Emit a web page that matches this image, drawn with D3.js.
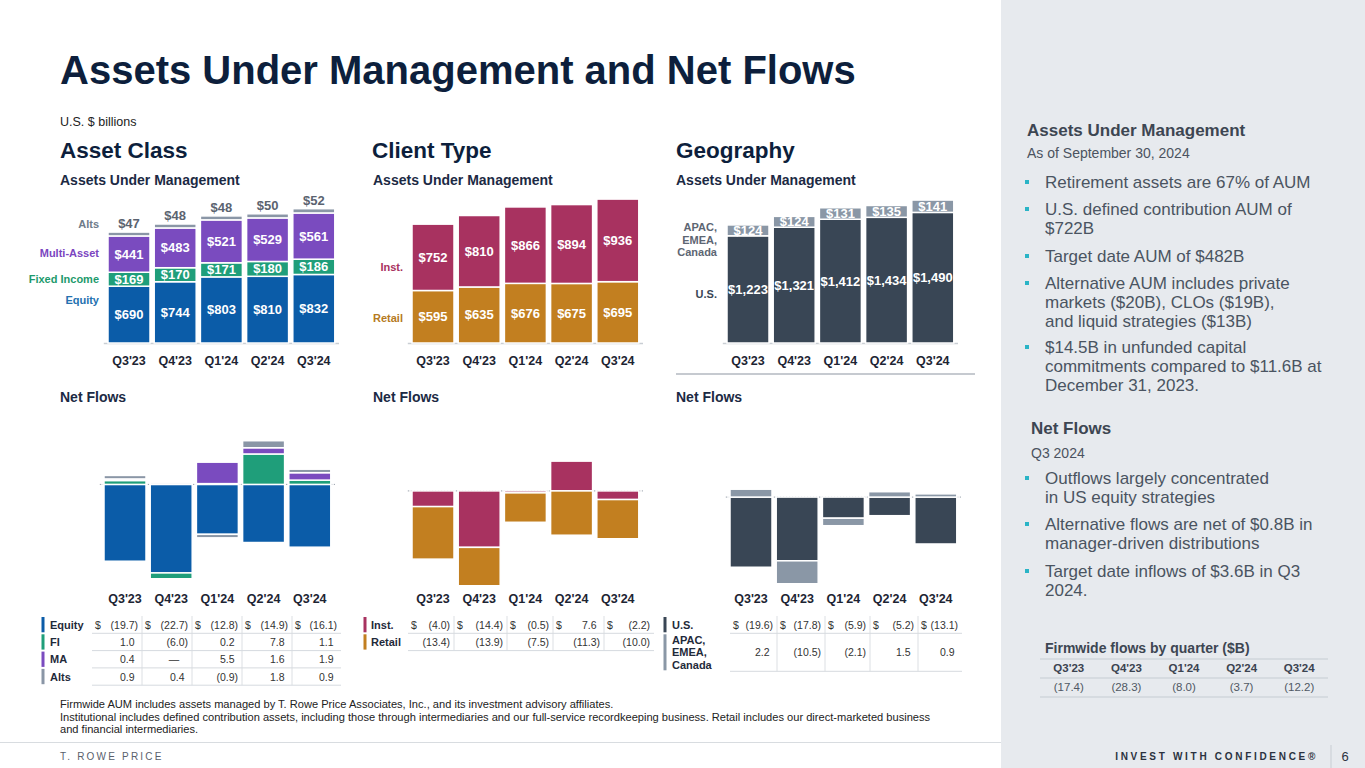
<!DOCTYPE html>
<html>
<head>
<meta charset="utf-8">
<script src="https://cdn.jsdelivr.net/npm/d3@7"></script>
<style>
body { margin: 0; background: #fff; }
svg { display: block; font-family: "Liberation Sans", Arial, sans-serif; }
</style>
</head>
<body>
<svg id="slide" width="1365" height="768"></svg>
<script>
const quarters = ["Q3'23", "Q4'23", "Q1'24", "Q2'24", "Q3'24"];

// AUM, $B
const aumEquity = [690, 744, 803, 810, 832];
const aumFixedIncome = [169, 170, 171, 180, 186];
const aumMultiAsset = [441, 483, 521, 529, 561];
const aumAlts = [47, 48, 48, 50, 52];
const aumRetail = [595, 635, 676, 675, 695];
const aumInst = [752, 810, 866, 894, 936];
const aumUS = [1223, 1321, 1412, 1434, 1490];
const aumIntl = [124, 124, 131, 135, 141];

// net flows, $B
const flowEquity = [-19.7, -22.7, -12.8, -14.9, -16.1];
const flowFI = [1.0, -6.0, 0.2, 7.8, 1.1];
const flowMA = [0.4, 0, 5.5, 1.6, 1.9];
const flowAlts = [0.9, 0.4, -0.9, 1.8, 0.9];
const flowInst = [-4.0, -14.4, -0.5, 7.6, -2.2];
const flowRetail = [-13.4, -13.9, -7.5, -11.3, -10.0];
const flowUS = [-19.6, -17.8, -5.9, -5.2, -13.1];
const flowIntl = [2.2, -10.5, -2.1, 1.5, 0.9];
const firmwideFlows = [-17.4, -28.3, -8.0, -3.7, -12.2];

const assetNames = ["Equity", "Fixed Income", "Multi-Asset", "Alts"];
const assetShort = ["Equity", "FI", "MA", "Alts"];
const clientNames = ["Inst.", "Retail"];
const geoNames = ["U.S.", "APAC, EMEA, Canada"];

const assetColors = ["#0b5ca8", "#1f9e7a", "#7a4bbf", "#8a96a6"];
const clientColors = ["#a83260", "#c27f20"];
const geoColors = ["#394655", "#8a97a6"];

const svg = d3.select("#slide");

function txt(x, y, s, size, weight, color, anchor) {
    return svg.append("text")
        .attr("x", x).attr("y", y)
        .attr("font-size", size)
        .attr("font-weight", weight || "normal")
        .attr("fill", color)
        .attr("text-anchor", anchor || "start")
        .text(s);
}

function band(x0, step, width) {
    let p = 1 - width / step;
    let r0 = x0 - p * step;
    return d3.scaleBand().domain(quarters)
        .range([r0, r0 + step * (quarters.length + p)])
        .paddingInner(p).paddingOuter(p);
}

function toRows(keys, values) {
    return quarters.map(function(q, i) {
        let o = { q: q };
        keys.forEach(function(k, j) { o[k] = values[j][i]; });
        return o;
    });
}

const money = d3.format(",");

// right panel background
svg.append("rect").attr("x", 1001).attr("y", 0).attr("width", 364).attr("height", 768).attr("fill", "#e7eaee");

// headings
txt(60, 84, "Assets Under Management and Net Flows", 40, "bold", "#0d1f3c");
txt(60, 126, "U.S. $ billions", 12.5, "normal", "#222");
txt(60, 158, "Asset Class", 22.5, "bold", "#0d1f3c");
txt(372, 158, "Client Type", 22.5, "bold", "#0d1f3c");
txt(676, 158, "Geography", 22.5, "bold", "#0d1f3c");
[60, 373, 676].forEach(function(x) {
    txt(x, 185, "Assets Under Management", 14, "bold", "#1c2a44");
    txt(x, 402, "Net Flows", 14, "bold", "#1c2a44");
});
svg.append("line").attr("x1", 676).attr("x2", 975).attr("y1", 374).attr("y2", 374)
    .attr("stroke", "#8d96a1").attr("stroke-width", 1.2);

function drawAum(opt) {
    let rows = toRows(opt.keys, opt.values);
    let stack = d3.stack().keys(opt.keys)(rows);
    let x = band(opt.x0, 46.2, 42);
    let y = d3.scaleLinear().domain([0, 1700]).range([343, opt.top]);
    let g = svg.append("g");

    g.append("line")
        .attr("x1", x.range()[0]).attr("x2", x.range()[1])
        .attr("y1", y(0) + 0.5).attr("y2", y(0) + 0.5)
        .attr("stroke", "#c9ced4").attr("stroke-width", 1.5);

    let layer = g.selectAll("g.layer")
        .data(stack)
        .enter()
        .append("g")
        .attr("class", "layer")
        .attr("fill", function(d, i) { return opt.colors[i]; });

    layer.selectAll("rect")
        .data(function(d) { return d; })
        .enter()
        .append("rect")
        .attr("x", function(d) { return x(d.data.q); })
        .attr("y", function(d) { return y(d[1]); })
        .attr("width", x.bandwidth())
        .attr("height", function(d) { return y(d[0]) - y(d[1]); })
        .attr("stroke", "#fff")
        .attr("stroke-width", 1.5);

    stack.forEach(function(s, j) {
        g.selectAll("text.v" + j)
            .data(s)
            .enter()
            .append("text")
            .attr("x", function(d) { return x(d.data.q) + x.bandwidth() / 2; })
            .attr("y", function(d) {
                return opt.onTop[j] ? y(d[1]) - 4 : (y(d[0]) + y(d[1])) / 2 + 4.5;
            })
            .attr("text-anchor", "middle")
            .attr("font-size", 13)
            .attr("font-weight", "bold")
            .attr("fill", opt.onTop[j] ? "#5b6370" : "#fff")
            .text(function(d) { return "$" + money(d[1] - d[0]); });
    });

    g.selectAll("text.q")
        .data(quarters)
        .enter()
        .append("text")
        .attr("x", function(d) { return x(d) + x.bandwidth() / 2; })
        .attr("y", 365)
        .attr("text-anchor", "middle")
        .attr("font-size", 12.5)
        .attr("font-weight", "bold")
        .attr("fill", "#1d2433")
        .text(function(d) { return d; });

    opt.legend.forEach(function(l) {
        let t = txt(opt.legendX, l.y, "", 11, "bold", l.color, "end");
        l.text.split("|").forEach(function(line, k) {
            t.append("tspan").attr("x", opt.legendX).attr("dy", k ? 12.5 : 0).text(line);
        });
    });
}

drawAum({
    keys: assetNames,
    values: [aumEquity, aumFixedIncome, aumMultiAsset, aumAlts],
    colors: assetColors,
    x0: 108, top: 203,
    onTop: [false, false, false, true],
    legendX: 99,
    legend: [
        { text: "Alts", y: 228, color: "#6f7b8a" },
        { text: "Multi-Asset", y: 257, color: "#7b45bf" },
        { text: "Fixed Income", y: 283, color: "#1d9a6c" },
        { text: "Equity", y: 304, color: "#2471b0" }
    ]
});

drawAum({
    keys: ["Retail", "Inst."],
    values: [aumRetail, aumInst],
    colors: [clientColors[1], clientColors[0]],
    x0: 412, top: 193,
    onTop: [false, false],
    legendX: 403,
    legend: [
        { text: "Inst.", y: 271, color: "#a83260" },
        { text: "Retail", y: 322, color: "#b57a22" }
    ]
});

drawAum({
    keys: ["U.S.", "APAC"],
    values: [aumUS, aumIntl],
    colors: geoColors,
    x0: 727, top: 194,
    onTop: [false, false],
    legendX: 717,
    legend: [
        { text: "APAC,|EMEA,|Canada", y: 231, color: "#5d6673" },
        { text: "U.S.", y: 298, color: "#394655" }
    ]
});

function drawFlows(opt) {
    let rows = toRows(opt.keys, opt.values);
    let stack = d3.stack().keys(opt.keys).offset(d3.stackOffsetDiverging)(rows);
    let x = band(opt.x0, 46.2, 42);
    let y = d3.scaleLinear().domain([-24, 12]).range([opt.bottom, opt.bottom - 36 * opt.k]);
    let g = svg.append("g");

    g.append("clipPath").attr("id", opt.id)
        .append("rect")
        .attr("x", x.range()[0]).attr("y", y(12))
        .attr("width", x.range()[1] - x.range()[0])
        .attr("height", y(-24) - y(12));

    g.append("line")
        .attr("x1", x.range()[0]).attr("x2", x.range()[1])
        .attr("y1", y(0)).attr("y2", y(0))
        .attr("stroke", "#9aa2ac").attr("stroke-width", 1)
        .attr("stroke-dasharray", "1.5,1.5");

    let layer = g.append("g")
        .attr("clip-path", "url(#" + opt.id + ")")
        .selectAll("g.layer")
        .data(stack)
        .enter()
        .append("g")
        .attr("fill", function(d, i) { return opt.colors[i]; });

    layer.selectAll("rect")
        .data(function(d) { return d; })
        .enter()
        .append("rect")
        .attr("x", function(d) { return x(d.data.q); })
        .attr("y", function(d) { return y(Math.max(d[0], d[1])); })
        .attr("width", x.bandwidth())
        .attr("height", function(d) { return Math.abs(y(d[0]) - y(d[1])); })
        .attr("stroke", "#fff")
        .attr("stroke-width", 1.5);

    g.selectAll("text.q")
        .data(quarters)
        .enter()
        .append("text")
        .attr("x", function(d) { return x(d) + x.bandwidth() / 2; })
        .attr("y", 603)
        .attr("text-anchor", "middle")
        .attr("font-size", 12.5)
        .attr("font-weight", "bold")
        .attr("fill", "#1d2433")
        .text(function(d) { return d; });
}

drawFlows({ id: "clipA", keys: assetNames, values: [flowEquity, flowFI, flowMA, flowAlts],
    colors: assetColors, x0: 104, bottom: 578, k: 3.9 });
drawFlows({ id: "clipC", keys: clientNames, values: [flowInst, flowRetail],
    colors: clientColors, x0: 412, bottom: 585, k: 3.92 });
drawFlows({ id: "clipG", keys: geoNames, values: [flowUS, flowIntl],
    colors: geoColors, x0: 730, bottom: 583, k: 3.58 });

function fmtFlow(v) {
    if (v === 0) return "\u2014";
    let s = Math.abs(v).toFixed(1);
    return v < 0 ? "(" + s + ")" : s;
}

function drawTable(opt) {
    let g = svg.append("g");
    let top = 616;
    let yTop = [];
    opt.heights.forEach(function(h) { yTop.push(top); top += h; });
    let e = opt.edges;

    opt.edges.slice(1, -1).forEach(function(ex) {
        g.append("line").attr("x1", ex).attr("x2", ex)
            .attr("y1", 616).attr("y2", top)
            .attr("stroke", "#dcdfe3").attr("stroke-width", 1);
    });

    opt.names.forEach(function(name, r) {
        let y0 = yTop[r], h = opt.heights[r];
        let mid = y0 + h / 2;
        g.append("line").attr("x1", e[0]).attr("x2", e[e.length - 1])
            .attr("y1", y0 + h).attr("y2", y0 + h)
            .attr("stroke", "#d6dadf").attr("stroke-width", 1);
        g.append("rect").attr("x", opt.barX).attr("y", y0 + 1)
            .attr("width", 3).attr("height", h - 2)
            .attr("fill", opt.colors[r]);
        let lines = name.split(", ");
        let t = g.append("text").attr("font-size", 11).attr("font-weight", "bold").attr("fill", "#1f2a3a");
        lines.forEach(function(line, k) {
            t.append("tspan").attr("x", opt.labelX)
                .attr("y", mid + 4 + (k - (lines.length - 1) / 2) * 12.5)
                .text(line + (k < lines.length - 1 ? "," : ""));
        });
        opt.values[r].forEach(function(v, c) {
            if (r === 0) {
                g.append("text").attr("x", e[c] + 3).attr("y", mid + 4)
                    .attr("font-size", 10.5).attr("fill", "#333").text("$");
            }
            g.append("text").attr("x", e[c + 1] - 4 - (v > 0 ? 3.5 : 0))
                .attr("y", mid + 4)
                .attr("text-anchor", v === 0 ? "middle" : "end")
                .attr("dx", v === 0 ? -14 : 0)
                .attr("font-size", 10.5).attr("fill", "#333")
                .text(fmtFlow(v));
        });
    });
}

drawTable({ names: assetShort, colors: assetColors, values: [flowEquity, flowFI, flowMA, flowAlts],
    heights: [17.3, 17.3, 17.3, 17.3], edges: [92, 142, 192, 242, 292, 341], barX: 41.5, labelX: 50 });
drawTable({ names: clientNames, colors: clientColors, values: [flowInst, flowRetail],
    heights: [17.3, 17.3], edges: [408, 454, 507, 553, 604, 654], barX: 363.5, labelX: 371 });
drawTable({ names: geoNames, colors: geoColors, values: [flowUS, flowIntl],
    heights: [17.3, 38], edges: [730, 777, 825, 870, 918, 962], barX: 663.5, labelX: 672 });

// right panel
txt(1027, 136, "Assets Under Management", 17, "bold", "#3d4652");
txt(1027, 158, "As of September 30, 2024", 14, "normal", "#4b5360");
txt(1031, 434, "Net Flows", 17, "bold", "#3d4652");
txt(1031, 458, "Q3 2024", 14, "normal", "#4b5360");

const aumBullets = [
    ["Retirement assets are 67% of AUM"],
    ["U.S. defined contribution AUM of", "$722B"],
    ["Target date AUM of $482B"],
    ["Alternative AUM includes private", "markets ($20B), CLOs ($19B),", "and liquid strategies ($13B)"],
    ["$14.5B in unfunded capital", "commitments compared to $11.6B at", "December 31, 2023."]
];
const flowBullets = [
    ["Outflows largely concentrated", "in US equity strategies"],
    ["Alternative flows are net of $0.8B in", "manager-driven distributions"],
    ["Target date inflows of $3.6B in Q3", "2024."]
];

function bullets(list, starts) {
    list.forEach(function(lines, i) {
        svg.append("rect").attr("x", 1025).attr("y", starts[i] - 8)
            .attr("width", 4).attr("height", 4).attr("fill", "#2ab4c6");
        lines.forEach(function(line, k) {
            txt(1045, starts[i] + k * 18.8, line, 17, "normal", "#4a5461");
        });
    });
}
bullets(aumBullets, [188, 215, 262, 289, 353]);
bullets(flowBullets, [484, 530, 577]);

txt(1045, 653, "Firmwide flows by quarter ($B)", 14, "bold", "#3d4652");
[659, 678, 697].forEach(function(y) {
    svg.append("line").attr("x1", 1040).attr("x2", 1328).attr("y1", y).attr("y2", y)
        .attr("stroke", "#c6cbd1").attr("stroke-width", 1.2);
});
const fx = d3.scaleBand().domain(quarters).range([1040, 1328]);
quarters.forEach(function(q, i) {
    txt(fx(q) + fx.bandwidth() / 2, 672, q, 11.5, "bold", "#3b4350", "middle");
    txt(fx(q) + fx.bandwidth() / 2, 691, fmtFlow(firmwideFlows[i]), 11.5, "normal", "#505864", "middle");
});

// footnotes + footer
txt(60, 708, "Firmwide AUM includes assets managed by T. Rowe Price Associates, Inc., and its investment advisory affiliates.", 11.1, "normal", "#222");
txt(60, 721, "Institutional includes defined contribution assets, including those through intermediaries and our full-service recordkeeping business. Retail includes our direct-marketed business", 11.1, "normal", "#222");
txt(60, 733, "and financial intermediaries.", 11.1, "normal", "#222");

svg.append("line").attr("x1", 0).attr("x2", 1001).attr("y1", 742.5).attr("y2", 742.5)
    .attr("stroke", "#d8dce0").attr("stroke-width", 1);
txt(60, 760, "T. ROWE PRICE", 10, "normal", "#59606b").attr("letter-spacing", 2.2);
txt(1318, 760, "INVEST WITH CONFIDENCE\u00ae", 10, "bold", "#2b3240", "end").attr("letter-spacing", 2.7);
svg.append("line").attr("x1", 1331).attr("x2", 1331).attr("y1", 745).attr("y2", 768)
    .attr("stroke", "#c8cdd3").attr("stroke-width", 1);
txt(1345, 761, "6", 13, "normal", "#2b3240", "middle");
</script>
</body>
</html>
